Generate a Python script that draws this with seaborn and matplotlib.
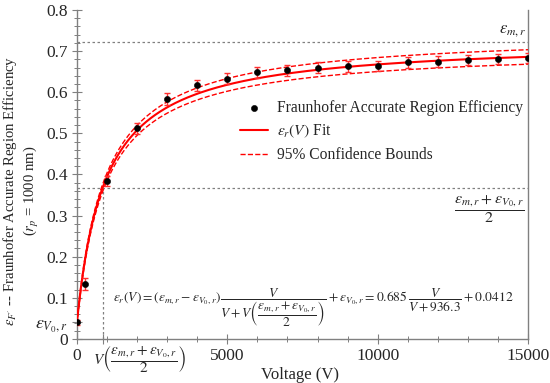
import numpy as np
import pandas as pd
import seaborn as sns
import matplotlib.pyplot as plt
from matplotlib.ticker import MultipleLocator
from matplotlib.transforms import offset_copy

# measured efficiency vs voltage
voltage = [0, 250, 1000, 2000, 3000, 4000, 5000, 6000, 7000, 8000,
           9000, 10000, 11000, 12000, 13000, 14000, 15000]
efficiency = [0.041, 0.134, 0.384, 0.512, 0.583, 0.617, 0.633, 0.648, 0.653,
              0.660, 0.663, 0.664, 0.673, 0.674, 0.678, 0.681, 0.683]
err = [0.006, 0.015, 0.013, 0.013, 0.015, 0.013, 0.013, 0.013, 0.013,
       0.013, 0.013, 0.013, 0.013, 0.013, 0.013, 0.013, 0.013]

# fit eps = A*V/(V+B) + C, and the 95% bounds
fit_params = (0.685, 936.3, 0.0412)
upper_params = (0.700, 950.0, 0.045)
lower_params = (0.670, 925.0, 0.037)

eps_max = 0.722
eps_half = 0.367
v_half = 855

sns.set_theme(style='white')
plt.rcParams['font.family'] = ['Liberation Serif', 'DejaVu Serif']
plt.rcParams['mathtext.fontset'] = 'stix'

fig, ax = plt.subplots(figsize=(5.5, 3.83), dpi=100)
fig.subplots_adjust(left=0.14, right=0.96, bottom=0.115, top=0.974)

vv = np.linspace(0, 15000, 600)
curves = {}
for name, (a, b, c) in [('fit', fit_params), ('up', upper_params), ('lo', lower_params)]:
    curves[name] = a * vv / (vv + b) + c
df = pd.DataFrame({'V': vv, **curves})

gray = '#808080'
ax.axhline(eps_max, color=gray, ls=(0, (2, 2)), lw=0.9, zorder=1)
ax.axhline(eps_half, color=gray, ls=(0, (2, 2)), lw=0.9, zorder=1)
ax.plot([v_half, v_half], [0, eps_half], color=gray, ls=(0, (2, 2)), lw=0.9, zorder=1)

sns.lineplot(data=df, x='V', y='fit', color='#ff0000', lw=1.5, ax=ax,
             label=r'$\epsilon_r(V)$ Fit', zorder=3)
sns.lineplot(data=df, x='V', y='up', color='#ff0000', lw=1.0, ls='--', ax=ax,
             label='95% Confidence Bounds', zorder=3)
sns.lineplot(data=df, x='V', y='lo', color='#ff0000', lw=1.0, ls='--', ax=ax,
             legend=False, zorder=3)
ax.errorbar(voltage, efficiency, yerr=err, fmt='none', ecolor='#ff3030',
            elinewidth=1.0, capsize=2.5, zorder=4)
sns.scatterplot(x=voltage, y=efficiency, color='black', s=20, edgecolor='black',
                ax=ax, label='Fraunhofer Accurate Region Efficiency', zorder=5)

ax.set_xlim(0, 15000)
ax.set_ylim(0, 0.8)

ax.set_xticks([0, v_half, 5000, 10000, 15000])
ax.set_xticklabels(['0', '', '5000', '10000', '15000'])
ax.set_yticks([0, 0.0412, 0.1, 0.2, 0.3, 0.4, 0.5, 0.6, 0.7, 0.8])
ax.set_yticklabels(['0', r'$\epsilon_{V_0,r}$', '0.1', '0.2', '0.3', '0.4',
                    '0.5', '0.6', '0.7', '0.8'])
ax.xaxis.set_minor_locator(MultipleLocator(1000))
ax.yaxis.set_minor_locator(MultipleLocator(0.02))
ax.tick_params(which='major', direction='inout', length=7, width=0.8,
               color=gray, labelsize=12.5, pad=3)
ax.tick_params(which='minor', direction='inout', length=4, width=0.7,
               color=gray)
ax.tick_params(axis='both', which='both', left=True, bottom=True)
for lab in ax.get_yticklabels():
    if 'epsilon' in lab.get_text():
        lab.set_fontsize(13)

# x tick label for the half-efficiency voltage, left of its tick
tr = offset_copy(ax.get_xaxis_transform(), fig=fig, x=-10, y=-5, units='dots')
ax.text(v_half, 0, r'$V\left(\dfrac{\epsilon_{m,r}+\epsilon_{V_0,r}}{2}\right)$',
        transform=tr, ha='left', va='top', fontsize=11)

for side in ['left', 'bottom', 'right']:
    ax.spines[side].set_color(gray)
    ax.spines[side].set_linewidth(1.0)
ax.spines['top'].set_visible(False)

ax.set_xlabel('Voltage (V)', fontsize=12)
ax.xaxis.set_label_coords(0.495, -0.085)
ax.set_ylabel("$\\epsilon_{F'}$ -- Fraunhofer Accurate Region Efficiency\n($r_p$ = 1000 nm)",
              fontsize=10.6, linespacing=1.2)
ax.yaxis.set_label_coords(-0.08, 0.45)

ax.text(14950, eps_max + 0.008, r'$\epsilon_{m,r}$', ha='right', va='bottom', fontsize=12)
ax.text(13700, eps_half - 0.015, r'$\dfrac{\epsilon_{m,r}+\epsilon_{V_0,r}}{2}$',
        ha='center', va='top', fontsize=11.5)
ax.text(7850, 0.075,
        r'$\epsilon_r(V) = \left(\epsilon_{m,r} - \epsilon_{V_0,r}\right)'
        r'\dfrac{V}{V + V\left(\dfrac{\epsilon_{m,r}+\epsilon_{V_0,r}}{2}\right)}'
        r' + \epsilon_{V_0,r} = 0.685\,\dfrac{V}{V + 936.3} + 0.0412$',
        ha='center', va='center', fontsize=9.7)

handles, labels = ax.get_legend_handles_labels()
order = [labels.index('Fraunhofer Accurate Region Efficiency'),
         labels.index(r'$\epsilon_r(V)$ Fit'), labels.index('95% Confidence Bounds')]
ax.legend([handles[i] for i in order], [labels[i] for i in order],
          loc='upper left', bbox_to_anchor=(0.33, 0.77), frameon=False,
          fontsize=11.2, handlelength=1.8, labelspacing=0.45, handletextpad=0.6)

fig.savefig('out.png', dpi=100)
